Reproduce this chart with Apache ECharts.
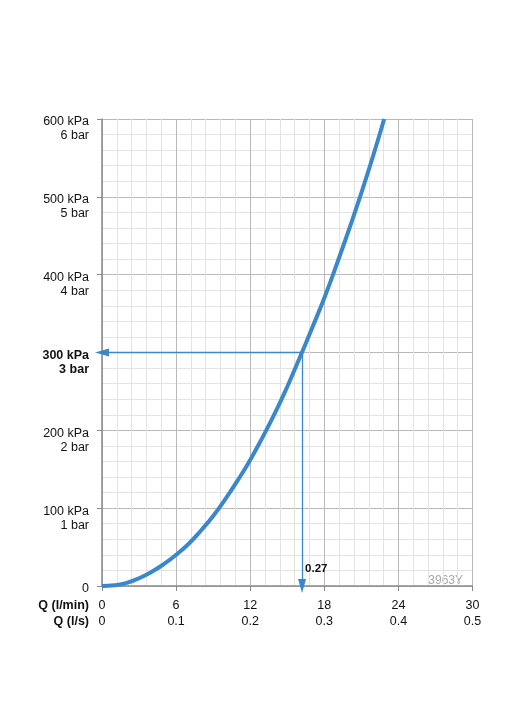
<!DOCTYPE html>
<html>
<head>
<meta charset="utf-8">
<script src="https://cdn.jsdelivr.net/npm/echarts@6/dist/echarts.min.js"></script>
<style>
html,body{margin:0;padding:0;background:#fff;}
#c{width:515px;height:728px;}
</style>
</head>
<body>
<div id="c"></div>
<script>
// Flow (l/min) vs pressure loss (kPa)
var flowLpm = [0, 1, 2, 3, 4, 5, 6, 7, 8, 9, 10, 11, 12, 13, 14, 15, 16, 17, 18, 19, 20, 21, 22, 22.85];
var pressureKpa = [0, 1, 4, 10, 18, 28, 40, 54, 71, 90, 112, 136, 162, 191, 222, 256, 293, 331, 370, 413, 458, 505, 555, 600];

var xTickLpm = ['0', '6', '12', '18', '24', '30'];
var xTickLps = ['0', '0.1', '0.2', '0.3', '0.4', '0.5'];
var xAxisNames = ['Q (l/min)', 'Q (l/s)'];
var yTickKpa = ['0', '100 kPa', '200 kPa', '300 kPa', '400 kPa', '500 kPa', '600 kPa'];
var yTickBar = ['', '1 bar', '2 bar', '3 bar', '4 bar', '5 bar', '6 bar'];

var readFlow = 16.2;      // 0.27 l/s
var readPressure = 300;
var readLabel = '0.27';
var codeText = '3963Y';

var blue = '#3a88c9';
var font = '"Liberation Sans", Arial, Helvetica, sans-serif';

var chart = echarts.init(document.getElementById('c'), null, {renderer: 'canvas'});
chart.setOption({
  animation: false,
  backgroundColor: '#fff',
  grid: {left: 102, right: 42.5, top: 119, bottom: 142, containLabel: false},
  xAxis: {
    type: 'value', min: 0, max: 30, interval: 6,
    axisLine: {show: true, lineStyle: {color: '#8a8a8a', width: 1.5}},
    axisTick: {show: true, length: 5, lineStyle: {color: '#8a8a8a'}},
    minorTick: {show: false, splitNumber: 5},
    splitLine: {show: true, lineStyle: {color: '#b8b8b8', width: 1}},
    minorSplitLine: {show: true, lineStyle: {color: '#e3e3e3', width: 1}},
    axisLabel: {
      margin: 12, color: '#111', fontFamily: font, fontSize: 12.5, lineHeight: 16,
      formatter: function (v) {
        var i = Math.round(v / 6);
        return xTickLpm[i] + '\n' + xTickLps[i];
      }
    }
  },
  yAxis: {
    type: 'value', min: 0, max: 600, interval: 100,
    axisLine: {show: true, lineStyle: {color: '#8a8a8a', width: 1.5}},
    axisTick: {show: true, length: 5, lineStyle: {color: '#8a8a8a'}},
    minorTick: {show: false, splitNumber: 5},
    splitLine: {show: true, lineStyle: {color: '#b8b8b8', width: 1}},
    minorSplitLine: {show: true, lineStyle: {color: '#e3e3e3', width: 1}},
    axisLabel: {
      margin: 13, color: '#111', fontFamily: font, fontSize: 12.5, lineHeight: 14, align: 'right',
      formatter: function (v) {
        var i = Math.round(v / 100);
        var style = (v === readPressure) ? 'b' : 'n';
        var s = '{e| }\n{' + style + '|' + yTickKpa[i] + '}\n';
        s += yTickBar[i] ? '{' + style + '|' + yTickBar[i] + '}' : '{f| }';
        return s;
      },
      rich: {
        n: {fontFamily: font, fontSize: 12.5, color: '#111', lineHeight: 14},
        b: {fontFamily: font, fontSize: 12.5, color: '#111', fontWeight: 'bold', lineHeight: 14},
        e: {fontSize: 12.5, lineHeight: 20},
        f: {fontSize: 12.5, lineHeight: 14}
      }
    }
  },
  series: [
    {
      type: 'line', smooth: true, showSymbol: false, symbol: 'none',
      data: flowLpm.map(function (q, i) { return [q, pressureKpa[i]]; }),
      lineStyle: {color: blue, width: 4},
      z: 3,
      markLine: {
        silent: true, symbol: ['none', 'triangle'], symbolSize: [8, 14],
        symbolOffset: [5, 0],
        lineStyle: {color: blue, width: 1.3, type: 'solid'},
        label: {show: false},
        data: [
          [{coord: [readFlow, readPressure]}, {coord: [0, readPressure]}],
          [{coord: [readFlow, readPressure]}, {coord: [readFlow, 0]}]
        ]
      },
      markPoint: {
        silent: true, symbol: 'circle', symbolSize: 0,
        label: {
          show: true, position: 'right', distance: 3, formatter: readLabel,
          fontFamily: font, fontSize: 11.5, fontWeight: 'bold', color: '#111'
        },
        data: [{coord: [readFlow, 22]}]
      }
    }
  ],
  graphic: [
    {
      type: 'text', x: 89, y: 606,
      style: {text: xAxisNames[0], fontFamily: font, fontSize: 12.5, fontWeight: 'bold', fill: '#111',
              align: 'right', verticalAlign: 'middle', textAlign: 'right', textVerticalAlign: 'middle'}
    },
    {
      type: 'text', x: 89, y: 622,
      style: {text: xAxisNames[1], fontFamily: font, fontSize: 12.5, fontWeight: 'bold', fill: '#111',
              align: 'right', verticalAlign: 'middle', textAlign: 'right', textVerticalAlign: 'middle'}
    },
    {
      type: 'text', x: 463, y: 581,
      style: {text: codeText, fontFamily: font, fontSize: 12, fill: '#a8a8a8',
              align: 'right', verticalAlign: 'middle', textAlign: 'right', textVerticalAlign: 'middle'}
    }
  ]
});
</script>
</body>
</html>
